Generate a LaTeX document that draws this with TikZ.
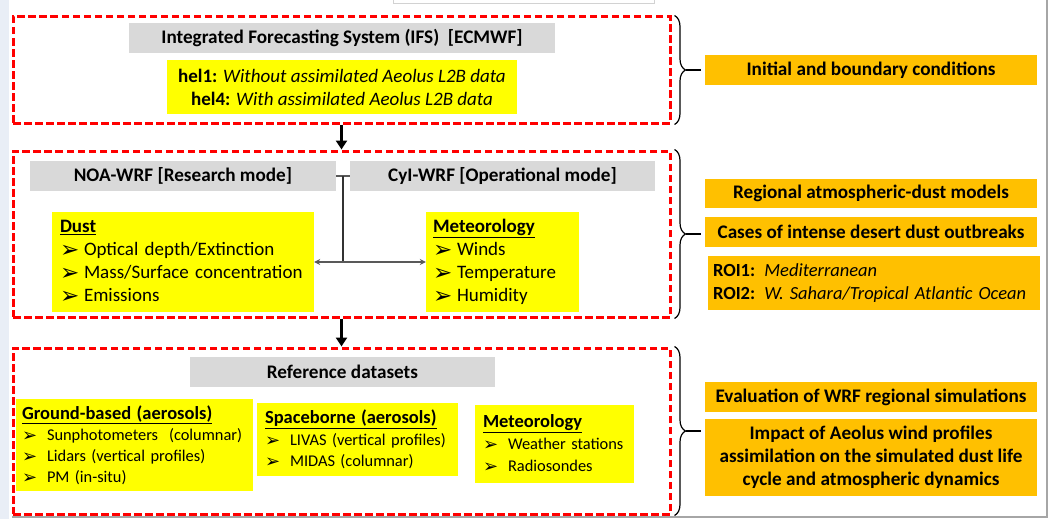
\documentclass[tikz,border=0pt]{standalone}
\usepackage{fontspec}
\setmainfont{Carlito}
\newfontfamily\dingfont{DejaVu Sans}
\usetikzlibrary{positioning, arrows.meta, decorations.pathreplacing}

\definecolor{hiyellow}{HTML}{FFFF00}
\definecolor{hdrgray}{HTML}{D9D9D9}
\definecolor{outorange}{HTML}{FFC000}
\definecolor{framered}{HTML}{FF0000}
\definecolor{linkgray}{HTML}{595959}
\definecolor{slideblue}{HTML}{E9EEF6}

\newcommand{\ditem}{\makebox[24pt][l]{\raisebox{-1.5pt}{\dingfont\fontsize{23}{23}\selectfont ➢}}}
\newcommand{\sitem}{\makebox[25pt][l]{\raisebox{-1pt}{\dingfont\fontsize{18}{18}\selectfont ➢}}}

\tikzset{
    frame/.style={draw=framered, line width=3pt, dash pattern=on 7.5pt off 3.5pt, inner sep=0pt},
    hdr/.style={fill=hdrgray, inner sep=0pt, font=\bfseries\fontsize{19.2}{22}\selectfont},
    hibox/.style={fill=hiyellow, inner sep=0pt},
    outbox/.style={fill=outorange, inner sep=0pt, minimum width=332pt, align=center, font=\bfseries\fontsize{19.2}{23}\selectfont},
    bigarrow/.style={line width=2.5pt, -{Triangle[length=9pt, width=11pt]}},
    bracket/.style={decorate, decoration={brace, amplitude=11pt}, line width=1.2pt}
}

\begin{document}
\begin{tikzpicture}[x=1pt, y=-1pt]
        \useasboundingbox (0,0) rectangle (1050,519);

        \fill[slideblue] (0,0) rectangle (9,519);
        \draw[gray!35, fill=white] (393,-3) rectangle (654,3);
        \draw[gray!70, line width=1.5pt] (1047,0) -- (1047,517) -- (12,517);

        \node[frame, minimum width=657pt, minimum height=106pt] (ifsframe) at (341.5,70) {};
        \node[frame, minimum width=657pt, minimum height=166pt] (wrfframe) at (341.5,234) {};
        \node[frame, minimum width=657pt, minimum height=166pt] (refframe) at (341.5,431) {};

        \node[hdr, minimum width=426pt, minimum height=30pt] (ifs) at (342,38) {Integrated Forecasting System (IFS)~~[ECMWF]};
        \node[hibox, minimum width=350pt, minimum height=54pt, align=center, font=\fontsize{19}{23}\selectfont] (hel) at (342,87)
            {\textbf{hel1:} \textit{Without assimilated Aeolus L2B data}\\ \textbf{hel4:} \textit{With assimilated Aeolus L2B data}};

        \node[hdr, minimum width=306pt, minimum height=30pt] (noa) at (183,176) {NOA-WRF [Research mode]};
        \node[hdr, minimum width=305pt, minimum height=30pt] (cyl) at (502.5,176) {CyI-WRF [Operational mode]};

        \node[hibox, minimum width=262pt, minimum height=100pt, text width=246pt, align=left, font=\fontsize{19}{23}\selectfont] (dust) at (183,262)
            {\textbf{\underline{Dust}}\\ \ditem Optical depth/Extinction\\ \ditem Mass/Surface concentration\\ \ditem Emissions};
        \node[hibox, minimum width=153pt, minimum height=100pt, text width=139pt, align=left, font=\fontsize{19}{23}\selectfont] (meteo) at (502.5,262)
            {\textbf{\underline{Meteorology}}\\ \ditem Winds\\ \ditem Temperature\\ \ditem Humidity};

        \coordinate (hub) at (343,262);
        \draw[linkgray, line width=1.2pt] (noa.east) -- (cyl.west);
        \draw[black!80, line width=1.3pt] (hub |- noa.east) -- (hub);
        \draw[linkgray, line width=1.3pt, {Stealth[length=6pt, width=6pt]}-{Stealth[length=6pt, width=6pt]}] (dust.east |- hub) -- (meteo.west |- hub);

        \node[hdr, minimum width=305pt, minimum height=30pt] (refdata) at (342.5,372) {Reference datasets};

        \node[hibox, minimum width=237pt, minimum height=92pt, text width=225pt, align=left, font=\fontsize{16.4}{21}\selectfont] (ground) at (134.5,445)
            {\textbf{\fontsize{18.5}{21}\selectfont\underline{Ground-based (aerosols)}}\\ \sitem Sunphotometers~~(columnar)\\ \sitem Lidars (vertical profiles)\\ \sitem PM (in-situ)};
        \node[hibox, minimum width=201pt, minimum height=73pt, text width=185pt, align=left, font=\fontsize{16.4}{21.5}\selectfont] (space) at (357.5,439.5)
            {\textbf{\fontsize{18.5}{21.5}\selectfont\underline{Spaceborne (aerosols)}}\\ \sitem LIVAS (vertical profiles)\\ \sitem MIDAS (columnar)};
        \node[hibox, minimum width=159pt, minimum height=78pt, text width=143pt, align=left, font=\fontsize{16.4}{22}\selectfont] (meteoobs) at (554.5,444)
            {\textbf{\fontsize{18.5}{22}\selectfont\underline{Meteorology}}\\ \sitem Weather stations\\ \sitem Radiosondes};

        \draw[bigarrow] (ifsframe.south) -- (wrfframe.north);
        \draw[bigarrow] (wrfframe.south) -- (refframe.north);

        \node[outbox, minimum height=30pt] (init) at (871,70) {Initial and boundary conditions};
        \node[outbox, minimum height=29pt] (regional) at (871,193.5) {Regional atmospheric-dust models};
        \node[outbox, minimum height=30pt] (cases) at (871,232) {Cases of intense desert dust outbreaks};
        \node[outbox, minimum height=54pt, text width=322pt, align=left, font=\bfseries\fontsize{18.5}{23}\selectfont, xshift=3pt] (roi) at (871,283)
            {ROI1: \textmd{\textit{Mediterranean}}\\ ROI2: \textmd{\textit{W. Sahara/Tropical Atlantic Ocean}}};
        \node[outbox, minimum height=30pt] (evalwrf) at (871,397) {Evaluation of WRF regional simulations};
        \node[outbox, minimum height=77pt] (impact) at (871,457.5)
            {Impact of Aeolus wind profiles\\ assimilation on the simulated dust life\\ cycle and atmospheric dynamics};

        \draw[bracket] ([xshift=3pt]ifsframe.north east) -- ([xshift=3pt]ifsframe.south east);
        \draw[bracket] ([xshift=3pt]wrfframe.north east) -- ([xshift=3pt]wrfframe.south east);
        \draw[bracket] ([xshift=3pt]refframe.north east) -- ([xshift=3pt]refframe.south east);
        \draw[line width=1.2pt, shorten >=4pt] ([xshift=14pt]ifsframe.east) -- (init.west);
        \draw[line width=1.2pt, shorten >=4pt] ([xshift=14pt]wrfframe.east) -- (cases.west |- wrfframe.east);
        \draw[line width=1.2pt, shorten >=4pt] ([xshift=14pt]refframe.east) -- (impact.west |- refframe.east);
\end{tikzpicture}
\end{document}
